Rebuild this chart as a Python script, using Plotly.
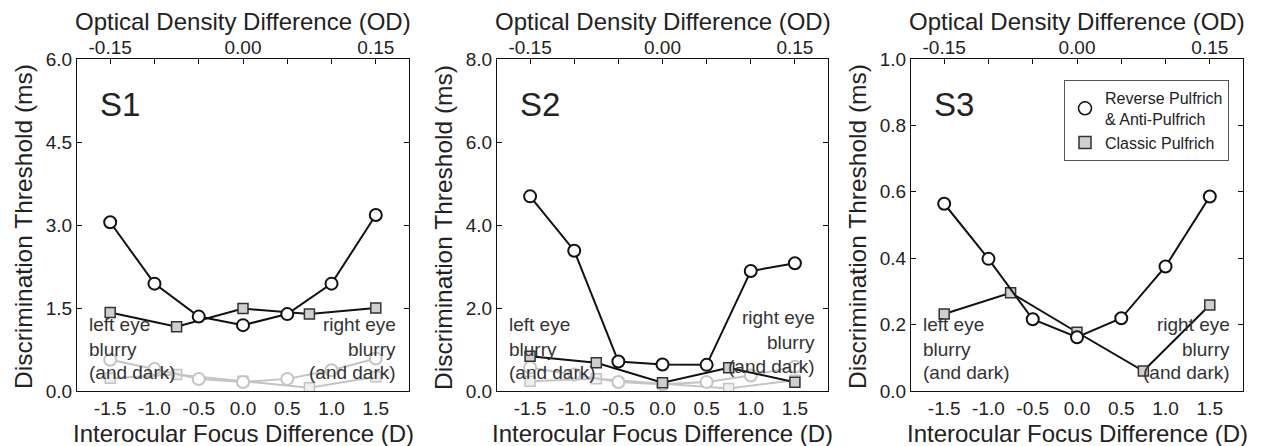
import plotly.graph_objects as go

# ---------------- data ----------------
circle_x = [-1.5, -1.0, -0.5, 0.0, 0.5, 1.0, 1.5]
square_x = [-1.5, -0.75, 0.0, 0.75, 1.5]

s1_circle = [3.05, 1.94, 1.345, 1.19, 1.39, 1.94, 3.18]
s1_square = [1.42, 1.16, 1.49, 1.39, 1.50]

s2_circle = [4.69, 3.38, 0.71, 0.64, 0.63, 2.89, 3.08]
s2_square = [0.84, 0.68, 0.20, 0.56, 0.21]

s3_circle = [0.564, 0.398, 0.216, 0.162, 0.219, 0.375, 0.586]
s3_square = [0.232, 0.296, 0.177, 0.060, 0.259]

panel_names = ["S1", "S2", "S3"]
y_max = [6.0, 8.0, 1.0]
y_tickvals = [[0, 1.5, 3.0, 4.5, 6.0], [0, 2, 4, 6, 8], [0, 0.2, 0.4, 0.6, 0.8, 1.0]]
y_ticktext = [["0.0", "1.5", "3.0", "4.5", "6.0"],
              ["0.0", "2.0", "4.0", "6.0", "8.0"],
              ["0.0", "0.2", "0.4", "0.6", "0.8", "1.0"]]
x_tickvals = [-1.5, -1.0, -0.5, 0.0, 0.5, 1.0, 1.5]
x_ticktext = ["-1.5", "-1.0", "-0.5", "0.0", "0.5", "1.0", "1.5"]
od_ticktext = ["-0.15", "", "", "0.00", "", "", "0.15"]

legend_names = ["Reverse Pulfrich<br>& Anti-Pulfrich", "Classic Pulfrich"]

# ---------------- style ----------------
W, H = 1265, 446
FONT = "Liberation Sans, Arial, Helvetica, sans-serif"
TXT = "#222222"
GRAY = "#c4c4c4"
x_range = [-1.875, 1.875]
x_dom_px = [(77, 409), (497, 828), (911, 1243)]
y_top_px, y_bot_px = 59, 391


def fx(px):
    return px / W


def fy(py):
    return (H - py) / H


y_dom = [fy(y_bot_px), fy(y_top_px)]
PH = y_bot_px - y_top_px

black_line = dict(color="#111111", width=2)
gray_line = dict(color=GRAY, width=2)
circ_marker = dict(symbol="circle", size=12, color="white", line=dict(color="#111111", width=2))
sq_marker = dict(symbol="square", size=10, color="#cfcfcf", line=dict(color="#333333", width=1.5))
g_circ_marker = dict(symbol="circle", size=12, color="white", line=dict(color=GRAY, width=2))
g_sq_marker = dict(symbol="square", size=10, color="#efefef", line=dict(color=GRAY, width=1.5))

fig = go.Figure()

panel_data = [(s1_circle, s1_square), (s2_circle, s2_square), (s3_circle, s3_square)]

for i, (circ, sq) in enumerate(panel_data):
    xa = "x" if i == 0 else f"x{i+1}"
    ya = "y" if i == 0 else f"y{i+1}"
    if i < 2:
        fig.add_trace(go.Scatter(x=square_x, y=s3_square, mode="lines+markers",
                                 line=gray_line, marker=g_sq_marker, showlegend=False,
                                 xaxis=xa, yaxis=ya, hoverinfo="skip"))
        fig.add_trace(go.Scatter(x=circle_x, y=s3_circle, mode="lines+markers",
                                 line=gray_line, marker=g_circ_marker, showlegend=False,
                                 xaxis=xa, yaxis=ya, hoverinfo="skip"))
    fig.add_trace(go.Scatter(x=square_x, y=sq, mode="lines+markers",
                             line=black_line, marker=sq_marker, showlegend=False,
                             xaxis=xa, yaxis=ya))
    fig.add_trace(go.Scatter(x=circle_x, y=circ, mode="lines+markers",
                             line=black_line, marker=circ_marker, showlegend=False,
                             xaxis=xa, yaxis=ya))
    fig.add_trace(go.Scatter(x=[], y=[], xaxis=f"x{i+4}", yaxis=ya, showlegend=False))

fig.add_trace(go.Scatter(x=[None], y=[None], mode="markers", name=legend_names[0],
                         marker=dict(symbol="circle", size=13, color="white",
                                     line=dict(color="#111111", width=1.5)),
                         xaxis="x3", yaxis="y3"))
fig.add_trace(go.Scatter(x=[None], y=[None], mode="markers", name=legend_names[1],
                         marker=dict(symbol="square", size=12, color="#cfcfcf",
                                     line=dict(color="#333333", width=1.5)),
                         xaxis="x3", yaxis="y3"))

layout = dict(
    width=W, height=H,
    margin=dict(l=0, r=0, t=0, b=0, pad=0, autoexpand=False),
    paper_bgcolor="white", plot_bgcolor="white",
    font=dict(family=FONT, color=TXT, size=19),
    showlegend=True,
    legend=dict(x=fx(1229), y=fy(80), xanchor="right", yanchor="top",
                bgcolor="white", bordercolor="#555555", borderwidth=1,
                font=dict(size=16, family=FONT, color=TXT),
                tracegroupgap=6, itemwidth=30),
)

annotations = []
for i in range(3):
    sfx = "" if i == 0 else str(i + 1)
    x0, x1 = x_dom_px[i]
    xdom = [fx(x0), fx(x1)]
    PW = x1 - x0
    layout[f"xaxis{sfx}"] = dict(
        domain=xdom, range=x_range, anchor=f"y{sfx}",
        tickvals=x_tickvals, ticktext=x_ticktext, ticks="",
        showline=True, linecolor="#111111", linewidth=1, mirror=True,
        showgrid=False, zeroline=False, tickfont=dict(size=19, color=TXT),
        ticklabelstandoff=0, automargin=False,
    )
    layout[f"yaxis{sfx}"] = dict(
        domain=y_dom, range=[0, y_max[i]], anchor=f"x{sfx}",
        tickvals=y_tickvals[i], ticktext=y_ticktext[i],
        ticks="inside", ticklen=5, tickcolor="#111111",
        showline=True, linecolor="#111111", linewidth=1, mirror="ticks",
        showgrid=False, zeroline=False, tickfont=dict(size=19, color=TXT),
        automargin=False,
    )
    layout[f"xaxis{i+4}"] = dict(
        domain=xdom, range=x_range, overlaying=f"x{sfx}", side="top", anchor=f"y{sfx}",
        tickvals=x_tickvals, ticktext=od_ticktext,
        ticks="inside", ticklen=5, tickcolor="#111111",
        showline=False, showgrid=False, zeroline=False, tickfont=dict(size=19, color=TXT),
        automargin=False,
    )
    cx = fx((x0 + x1) / 2)
    annotations.append(dict(text="Interocular Focus Difference (D)", xref="paper", yref="paper",
                            x=cx, y=fy(433), xanchor="center", yanchor="middle",
                            showarrow=False, font=dict(size=24, color=TXT)))
    annotations.append(dict(text="Optical Density Difference (OD)", xref="paper", yref="paper",
                            x=cx, y=fy(21), xanchor="center", yanchor="middle",
                            showarrow=False, font=dict(size=24, color=TXT)))
    annotations.append(dict(text="Discrimination Threshold (ms)", xref="paper", yref="paper",
                            x=fx(x0 - 54), y=fy(227), xanchor="center", yanchor="middle",
                            textangle=-90, showarrow=False, font=dict(size=24.5, color=TXT)))
    annotations.append(dict(text=panel_names[i], xref=f"x{sfx} domain", yref=f"y{sfx} domain",
                            x=21 / PW, y=(y_bot_px - 104) / PH, xanchor="left", yanchor="middle",
                            showarrow=False, font=dict(size=33, color=TXT)))
    left_lines = ["left eye", "blurry", "(and dark)"]
    right_lines = ["right eye", "blurry", "(and dark)"]
    left_y = [325, 350, 373]
    right_y = [318, 343, 367] if i == 1 else [325, 350, 373]
    for t, yy in zip(left_lines, left_y):
        annotations.append(dict(text=t, xref=f"x{sfx} domain", yref=f"y{sfx} domain",
                                x=10 / PW, y=(y_bot_px - yy) / PH, xanchor="left", yanchor="middle",
                                showarrow=False, font=dict(size=19, color="#333333")))
    for t, yy in zip(right_lines, right_y):
        annotations.append(dict(text=t, xref=f"x{sfx} domain", yref=f"y{sfx} domain",
                                x=1 - 11 / PW, y=(y_bot_px - yy) / PH, xanchor="right", yanchor="middle",
                                showarrow=False, font=dict(size=19, color="#333333")))

layout["annotations"] = annotations
fig.update_layout(**layout)

fig.write_html("out.html", config={"displayModeBar": False},
               post_script="document.body.style.margin='0';document.body.style.overflow='hidden';")
